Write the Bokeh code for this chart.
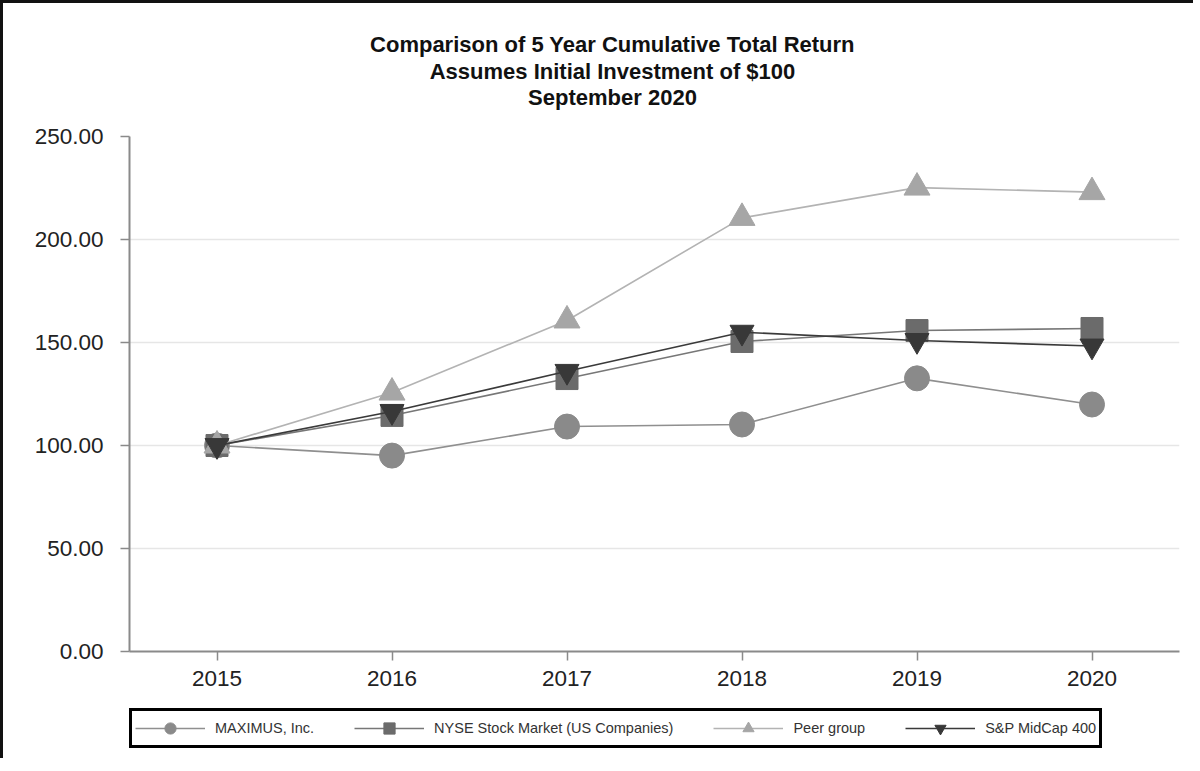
from bokeh.plotting import figure
from bokeh.layouts import column
from bokeh.models import FixedTicker, PrintfTickFormatter, Legend, LegendItem, Label
from bokeh.embed import file_html
from bokeh.resources import INLINE

years = [2015, 2016, 2017, 2018, 2019, 2020]
maximus = [100.0, 95.1, 109.2, 110.2, 132.6, 119.9]
nyse = [100.0, 114.6, 132.5, 150.5, 155.8, 156.8]
peer = [100.0, 125.7, 160.7, 210.5, 225.2, 223.0]
midcap = [100.0, 116.5, 136.0, 155.0, 151.0, 148.3]

series_names = ["MAXIMUS, Inc.", "NYSE Stock Market (US Companies)", "Peer group", "S&P MidCap 400"]
title_lines = ["Comparison of 5 Year Cumulative Total Return",
               "Assumes Initial Investment of $100",
               "September 2020"]
y_ticks = [0, 50, 100, 150, 200, 250]

FONT = "Liberation Sans"
W = 1190

def blank(height):
    f = figure(width=W, height=height, output_backend="svg", toolbar_location=None,
               title_location=None, x_axis_type=None, y_axis_type=None,
               x_range=(0, 1), y_range=(0, 1),
               min_border=0, min_border_left=0, min_border_right=0,
               min_border_top=0, min_border_bottom=0,
               background_fill_color="white", border_fill_color="white")
    f.outline_line_color = None
    return f

# ---- title block (its frame is aligned with the chart's frame by the column)
tp = blank(118)
for line, ty in zip(title_lines, [77, 50, 24]):
    tp.add_layout(Label(x=483, y=ty, x_units="screen", y_units="screen", text=line,
                        text_align="center", text_baseline="middle",
                        text_font=FONT, text_font_size="22px", text_font_style="bold",
                        text_color="#111111"))

# ---- main chart
p = figure(width=W, height=580, output_backend="svg", toolbar_location=None,
           title_location=None,
           x_range=(2014.5, 2020.5), y_range=(0, 250),
           min_border_left=126, min_border_right=14, min_border_top=15,
           min_border_bottom=50,
           background_fill_color="white", border_fill_color="white")
p.outline_line_color = None

p.yaxis.ticker = FixedTicker(ticks=y_ticks)
p.yaxis.formatter = PrintfTickFormatter(format="%.2f")
p.xaxis.ticker = FixedTicker(ticks=years)
for ax in (p.xaxis, p.yaxis):
    ax.axis_line_color = "#8a8a8a"
    ax.axis_line_width = 2
    ax.major_tick_line_color = "#8a8a8a"
    ax.major_tick_line_width = 1.5
    ax.major_tick_out = 9
    ax.major_tick_in = 0
    ax.minor_tick_line_color = None
    ax.major_label_text_font = FONT
    ax.major_label_text_font_size = "22.5px"
    ax.major_label_text_color = "#222222"
p.yaxis.major_label_standoff = 17
p.xaxis.major_label_standoff = 10

p.xgrid.grid_line_color = None
p.ygrid.grid_line_color = "#e6e6e6"
p.ygrid.grid_line_width = 1.5

styles = [
    (maximus, "#8f8f8f", "#8a8a8a", "circle", 25),
    (nyse, "#777777", "#6b6b6b", "square", 22),
    (peer, "#b3b3b3", "#a6a6a6", "triangle", 26),
    (midcap, "#3a3a3a", "#383838", "inverted_triangle", 24),
]

# ---- legend block (proxy renderers lie outside its visible range)
lp = blank(57)
legend_items = []
for name, (vals, lc, mc, marker, size) in zip(series_names, styles):
    p.line(years, vals, line_color=lc, line_width=1.6)
    p.scatter(years, vals, marker=marker, size=size, fill_color=mc, line_color=mc)
    pl = lp.line(years, vals, line_color=lc, line_width=1.6)
    ps = lp.scatter(years, vals, marker=marker, fill_color=mc, line_color=mc)
    legend_items.append(LegendItem(label=name, renderers=[pl, ps]))

legend = Legend(items=legend_items, orientation="horizontal", location=(0, 10),
                border_line_color="#000000", border_line_width=3, border_line_alpha=1.0,
                label_text_font=FONT, label_text_font_size="14.5px", label_text_color="#333333",
                glyph_width=70, glyph_height=28, label_height=28, label_standoff=10, spacing=40,
                padding=3, margin=0, background_fill_color="white", background_fill_alpha=1.0)
lp.add_layout(legend, "center")

layout = column(tp, p, lp, spacing=0,
                styles={"border-left": "3px solid #111", "border-top": "3px solid #111"})

open("out.html", "w").write(file_html(layout, INLINE))
